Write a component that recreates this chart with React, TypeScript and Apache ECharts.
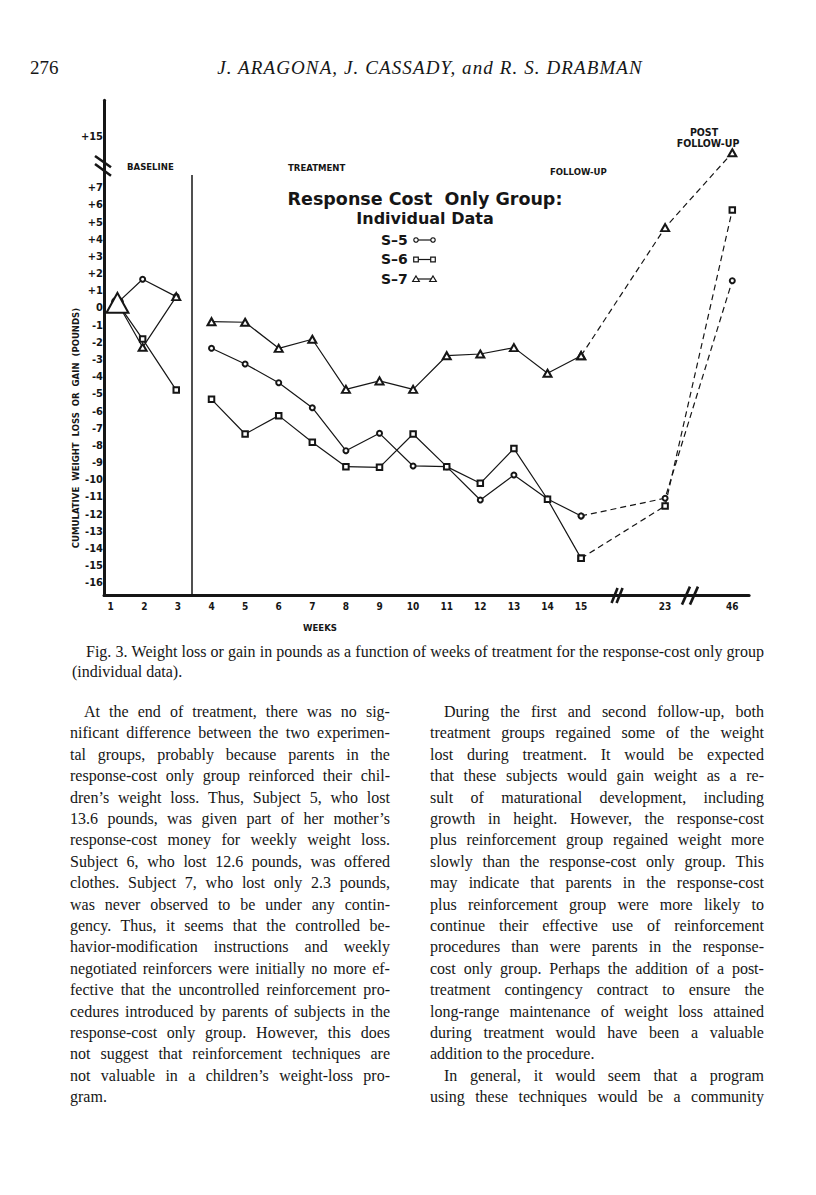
import React, { useEffect, useRef } from "react";
import * as echarts from "echarts";

// ---------------- chart data ----------------
const weeks = [1, 2, 3, 4, 5, 6, 7, 8, 9, 10, 11, 12, 13, 14, 15, 23, 46];
// position of each week on the broken week axis
const weekAxisPos = [1.2, 1.95, 2.95, 4, 5, 6, 7, 8, 9, 10, 11, 12, 13, 14, 15, 17.5, 19.5];
const s5Values = [0.3, 1.67, 0.66, -2.35, -3.26, -4.35, -5.81, -8.31, -7.3, -9.2, -9.24, -11.18, -9.73, -11.12, -12.11, -11.08, 1.59];
const s6Values = [0.3, -1.81, -4.78, -5.32, -7.34, -6.27, -7.82, -9.24, -9.28, -7.34, -9.24, -10.21, -8.19, -11.14, -14.58, -11.53, 5.71];
const s7Values = [0.3, -2.29, 0.66, -0.8, -0.83, -2.35, -1.82, -4.74, -4.25, -4.74, -2.78, -2.68, -2.31, -3.8, -2.78, 4.68, 9.04];
const subjectNames = ["S\u20135", "S\u20136", "S\u20137"];

const xTickPos = [1, 2, 3, 4, 5, 6, 7, 8, 9, 10, 11, 12, 13, 14, 15, 17.5, 19.5];
const xTickLabels = ["1", "2", "3", "4", "5", "6", "7", "8", "9", "10", "11", "12", "13", "14", "15", "23", "46"];
const yTickPos = [-16, -15, -14, -13, -12, -11, -10, -9, -8, -7, -6, -5, -4, -3, -2, -1, 0, 1, 2, 3, 4, 5, 6, 7, 10];
const yTickLabels = ["-16", "-15", "-14", "-13", "-12", "-11", "-10", "-9", "-8", "-7", "-6", "-5", "-4", "-3", "-2", "-1", "0", "+1", "+2", "+3", "+4", "+5", "+6", "+7", "+15"];

const phaseLabels = ["BASELINE", "TREATMENT", "FOLLOW-UP"];
const postLabels = ["POST", "FOLLOW-UP"];
const phaseDividerPos = 3.41;
const xBreakPos = [16.07, 18.24];
const yBreakPos = 8.28;

const chartTitle = ["Response Cost  Only Group:", "Individual Data"];
const yAxisTitle = "CUMULATIVE  WEIGHT  LOSS  OR  GAIN  (POUNDS)";
const xAxisTitle = "WEEKS";

// ---------------- page text ----------------
const pageNumber = "276";
const runningHead = "J. ARAGONA, J. CASSADY, and R. S. DRABMAN";
const captionLines = [
  "Fig. 3. Weight loss or gain in pounds as a function of weeks of treatment for the response-cost only group",
  "(individual data).",
];
const leftLines = [
  "At the end of treatment, there was no sig-",
  "nificant difference between the two experimen-",
  "tal groups, probably because parents in the",
  "response-cost only group reinforced their chil-",
  "dren\u2019s weight loss. Thus, Subject 5, who lost",
  "13.6 pounds, was given part of her mother\u2019s",
  "response-cost money for weekly weight loss.",
  "Subject 6, who lost 12.6 pounds, was offered",
  "clothes. Subject 7, who lost only 2.3 pounds,",
  "was never observed to be under any contin-",
  "gency. Thus, it seems that the controlled be-",
  "havior-modification instructions and weekly",
  "negotiated reinforcers were initially no more ef-",
  "fective that the uncontrolled reinforcement pro-",
  "cedures introduced by parents of subjects in the",
  "response-cost only group. However, this does",
  "not suggest that reinforcement techniques are",
  "not valuable in a children\u2019s weight-loss pro-",
  "gram.",
];
const leftIndent = [0];
const leftLast = [18];
const rightLines = [
  "During the first and second follow-up, both",
  "treatment groups regained some of the weight",
  "lost during treatment. It would be expected",
  "that these subjects would gain weight as a re-",
  "sult of maturational development, including",
  "growth in height. However, the response-cost",
  "plus reinforcement group regained weight more",
  "slowly than the response-cost only group. This",
  "may indicate that parents in the response-cost",
  "plus reinforcement group were more likely to",
  "continue their effective use of reinforcement",
  "procedures than were parents in the response-",
  "cost only group. Perhaps the addition of a post-",
  "treatment contingency contract to ensure the",
  "long-range maintenance of weight loss attained",
  "during treatment would have been a valuable",
  "addition to the procedure.",
  "In general, it would seem that a program",
  "using these techniques would be a community",
];
const rightIndent = [0, 17];
const rightLast = [16];

// ---------------- styling ----------------
const INK = "#161616";
const LABEL_FONT = "'Liberation Sans Narrow', 'DejaVu Sans Condensed', 'Liberation Sans', Arial, sans-serif";
const HEAVY_FONT = "'DejaVu Sans', 'Open Sans', sans-serif";
const SERIF = "'Liberation Serif', 'DejaVu Serif', serif";

const BODY_TOP = 701;
const LH = 21.4;
const BODY_SIZE = 16;
const COLS = [
  { left: 70, width: 320 },
  { left: 430, width: 334 },
];

function pickLabel(pos: number[], labels: string[], v: number) {
  for (let i = 0; i < pos.length; i++) if (Math.abs(pos[i] - v) < 1e-6) return labels[i];
  return "";
}

function buildSeries(name: string, values: number[], symbol: string, size: any, firstSize: any) {
  const pts = values.map((v, i) => [weekAxisPos[i], v]);
  const lineStyle = { color: INK, width: 1.2 };
  const itemStyle = { color: INK, borderColor: INK, borderWidth: 1.2 };
  const baseData: any[] = pts.slice(0, 3).map((p) => ({ value: p }));
  if (firstSize === 0) baseData[0] = { value: pts[0], symbol: "none" };
  else baseData[0] = { value: pts[0], symbolSize: firstSize };
  return [
    { name: name + " baseline", type: "line", data: baseData, symbol, symbolSize: size, lineStyle, itemStyle, z: 3 },
    { name: name + " treatment", type: "line", data: pts.slice(3, 15), symbol, symbolSize: size, lineStyle, itemStyle, z: 3 },
    {
      name: name + " follow-up",
      type: "line",
      data: pts.slice(14),
      symbol,
      symbolSize: size,
      lineStyle: { ...lineStyle, type: [6, 4] },
      itemStyle,
      z: 3,
    },
  ];
}

function legendSymbol(kind: string, cx: number, cy: number) {
  const st = { fill: "#fff", stroke: INK, lineWidth: 1.2 };
  if (kind === "circle") return { type: "circle", silent: true, shape: { cx, cy, r: 2.2 }, style: st };
  if (kind === "rect")
    return { type: "rect", silent: true, shape: { x: cx - 2.3, y: cy - 2.3, width: 4.6, height: 4.6 }, style: st };
  return {
    type: "polygon",
    silent: true,
    shape: { points: [[cx, cy - 3], [cx + 3.3, cy + 2.5], [cx - 3.3, cy + 2.5]] },
    style: st,
  };
}

function buildOption() {
  const series: any[] = [
    ...buildSeries(subjectNames[0], s5Values, "emptyCircle", 5, 11),
    ...buildSeries(subjectNames[1], s6Values, "emptyRect", 5.5, 0),
    ...buildSeries(subjectNames[2], s7Values, "emptyTriangle", [8, 7], [22, 20]),
  ];
  series[0].markLine = {
    silent: true,
    symbol: ["none", "none"],
    label: { show: false },
    lineStyle: { color: INK, width: 1.5, type: "solid" },
    data: [[{ coord: [phaseDividerPos, 7.75] }, { coord: [phaseDividerPos, -16.75] }]],
  };
  series.push({
    type: "custom",
    silent: true,
    clip: false,
    z: 10,
    encode: { x: 0, y: 1 },
    data: [[0.8, yBreakPos, 0], [xBreakPos[0], -16.75, 1], [xBreakPos[1], -16.75, 2]],
    renderItem: (params: any, api: any) => {
      const p = api.coord([api.value(0), api.value(1)]);
      const k = api.value(2);
      const st = { stroke: INK, lineWidth: 2.6 };
      if (k === 0) {
        return {
          type: "group",
          children: [
            { type: "line", shape: { x1: p[0] - 9, y1: p[1] - 9.8, x2: p[0] + 7, y2: p[1] + 1.5 }, style: st },
            { type: "line", shape: { x1: p[0] - 9, y1: p[1] - 1.8, x2: p[0] + 7, y2: p[1] + 9.9 }, style: st },
          ],
        };
      }
      const w = k === 1 ? 3 : 4;
      const h = k === 1 ? 7.5 : 9;
      const s = k === 1 ? 2.5 : 4;
      return {
        type: "group",
        children: [
          { type: "line", shape: { x1: p[0] - w - s, y1: p[1] + h, x2: p[0] + w - s, y2: p[1] - h }, style: st },
          { type: "line", shape: { x1: p[0] - w + s, y1: p[1] + h, x2: p[0] + w + s, y2: p[1] - h }, style: st },
        ],
      };
    },
  });

  const small = (t: string, x: number, y: number, align = "left", size = 9) => ({
    type: "text",
    silent: true,
    style: {
      text: t,
      x,
      y,
      fill: INK,
      font: `bold ${size}px ${LABEL_FONT}`,
      textAlign: align,
      textVerticalAlign: "middle",
    },
  });

  const legendKinds = ["circle", "rect", "triangle"];
  const graphic: any[] = [
    small(phaseLabels[0], 127, 166, "left", 9.5),
    small(phaseLabels[1], 288, 167, "left", 9.5),
    small(phaseLabels[2], 550, 171, "left", 9.5),
    small(postLabels[0], 704, 132, "center", 10.5),
    small(postLabels[1], 708, 143, "center", 10.5),
    small(xAxisTitle, 320, 627, "center", 9.5),
    {
      type: "text",
      silent: true,
      x: 75,
      y: 428,
      rotation: Math.PI / 2,
      style: {
        text: yAxisTitle,
        x: 0,
        y: 0,
        fill: INK,
        font: `bold 9.5px ${LABEL_FONT}`,
        textAlign: "center",
        textVerticalAlign: "middle",
      },
    },
    {
      type: "text",
      silent: true,
      style: {
        text: `{a|${chartTitle[0]}}\n{b|${chartTitle[1]}}`,
        x: 425,
        y: 189.5,
        fill: INK,
        textAlign: "center",
        textVerticalAlign: "top",
        rich: {
          a: { font: `bold 17.5px ${HEAVY_FONT}`, lineHeight: 19, fill: INK, align: "center" },
          b: { font: `bold 16px ${HEAVY_FONT}`, lineHeight: 19, fill: INK, align: "center" },
        },
      },
    },
  ];
  subjectNames.forEach((nm, i) => {
    const y = 239.5 + i * 19.5;
    graphic.push({
      type: "text",
      silent: true,
      style: {
        text: nm,
        x: 381,
        y,
        fill: INK,
        font: `bold 14px ${HEAVY_FONT}`,
        textAlign: "left",
        textVerticalAlign: "middle",
      },
    });
    graphic.push({
      type: "line",
      silent: true,
      shape: { x1: 417, y1: y + 0.5, x2: 432, y2: y + 0.5 },
      style: { stroke: INK, lineWidth: 1.2 },
    });
    graphic.push(legendSymbol(legendKinds[i], 416, y + 0.5));
    graphic.push(legendSymbol(legendKinds[i], 433, y + 0.5));
  });

  return {
    animation: false,
    backgroundColor: "transparent",
    grid: { left: 104, top: 100.2, width: 645.1, height: 495.4, containLabel: false, outerBoundsMode: "none" },
    xAxis: {
      type: "value",
      min: 0.8,
      max: 20,
      axisLine: { onZero: false, lineStyle: { color: INK, width: 3 } },
      axisTick: { show: false },
      splitLine: { show: false },
      axisLabel: {
        customValues: xTickPos,
        formatter: (v: number) => pickLabel(xTickPos, xTickLabels, v),
        margin: 6,
        fontSize: 10,
        fontWeight: "bold",
        color: INK,
        fontFamily: LABEL_FONT,
      },
    },
    yAxis: {
      type: "value",
      min: -16.75,
      max: 12.1,
      axisLine: { onZero: false, lineStyle: { color: INK, width: 3 } },
      axisTick: { show: false },
      splitLine: { show: false },
      axisLabel: {
        customValues: yTickPos,
        formatter: (v: number) => pickLabel(yTickPos, yTickLabels, v),
        margin: 1,
        fontSize: 11,
        fontWeight: "bold",
        color: INK,
        fontFamily: LABEL_FONT,
      },
    },
    series,
    graphic,
  };
}

function Line({ text, left, top, width, indent, justify }: any) {
  const words = text.split(" ");
  const base: any = {
    position: "absolute",
    left: left + (indent ? 14 : 0),
    top,
    width: width - (indent ? 14 : 0),
    height: LH,
    lineHeight: `${LH}px`,
    fontSize: BODY_SIZE,
    whiteSpace: "nowrap",
  };
  if (!justify) return <div style={base}>{text}</div>;
  return (
    <div style={{ ...base, display: "flex", justifyContent: "space-between" }}>
      {words.map((w: string, i: number) => (
        <span key={i}>{w}</span>
      ))}
    </div>
  );
}

export default function App() {
  const ref = useRef<HTMLDivElement>(null);
  useEffect(() => {
    if (!ref.current) return;
    const chart = echarts.init(ref.current, null, { renderer: "svg" });
    chart.setOption(buildOption() as any);
    return () => chart.dispose();
  }, []);

  return (
    <div
      style={{
        position: "absolute",
        left: 0,
        top: 0,
        width: 816,
        height: 1195,
        background: "#fff",
        color: INK,
        fontFamily: SERIF,
        overflow: "hidden",
      }}
    >
      <div ref={ref} style={{ position: "absolute", left: 0, top: 0, width: 816, height: 700 }} />
      <div style={{ position: "absolute", left: 30, top: 56, fontSize: 19, lineHeight: "24px" }}>{pageNumber}</div>
      <div
        style={{
          position: "absolute",
          left: 130,
          width: 600,
          top: 56,
          fontSize: 19,
          lineHeight: "24px",
          fontStyle: "italic",
          letterSpacing: 1.1,
          textAlign: "center",
        }}
      >
        {runningHead}
      </div>
      <Line text={captionLines[0]} left={72} top={641} width={692} indent justify />
      <Line text={captionLines[1]} left={72} top={661} width={692} justify={false} />
      {leftLines.map((t, i) => (
        <Line
          key={"l" + i}
          text={t}
          left={COLS[0].left}
          top={BODY_TOP + i * LH}
          width={COLS[0].width}
          indent={leftIndent.includes(i)}
          justify={!leftLast.includes(i)}
        />
      ))}
      {rightLines.map((t, i) => (
        <Line
          key={"r" + i}
          text={t}
          left={COLS[1].left}
          top={BODY_TOP + i * LH}
          width={COLS[1].width}
          indent={rightIndent.includes(i)}
          justify={!rightLast.includes(i)}
        />
      ))}
    </div>
  );
}
